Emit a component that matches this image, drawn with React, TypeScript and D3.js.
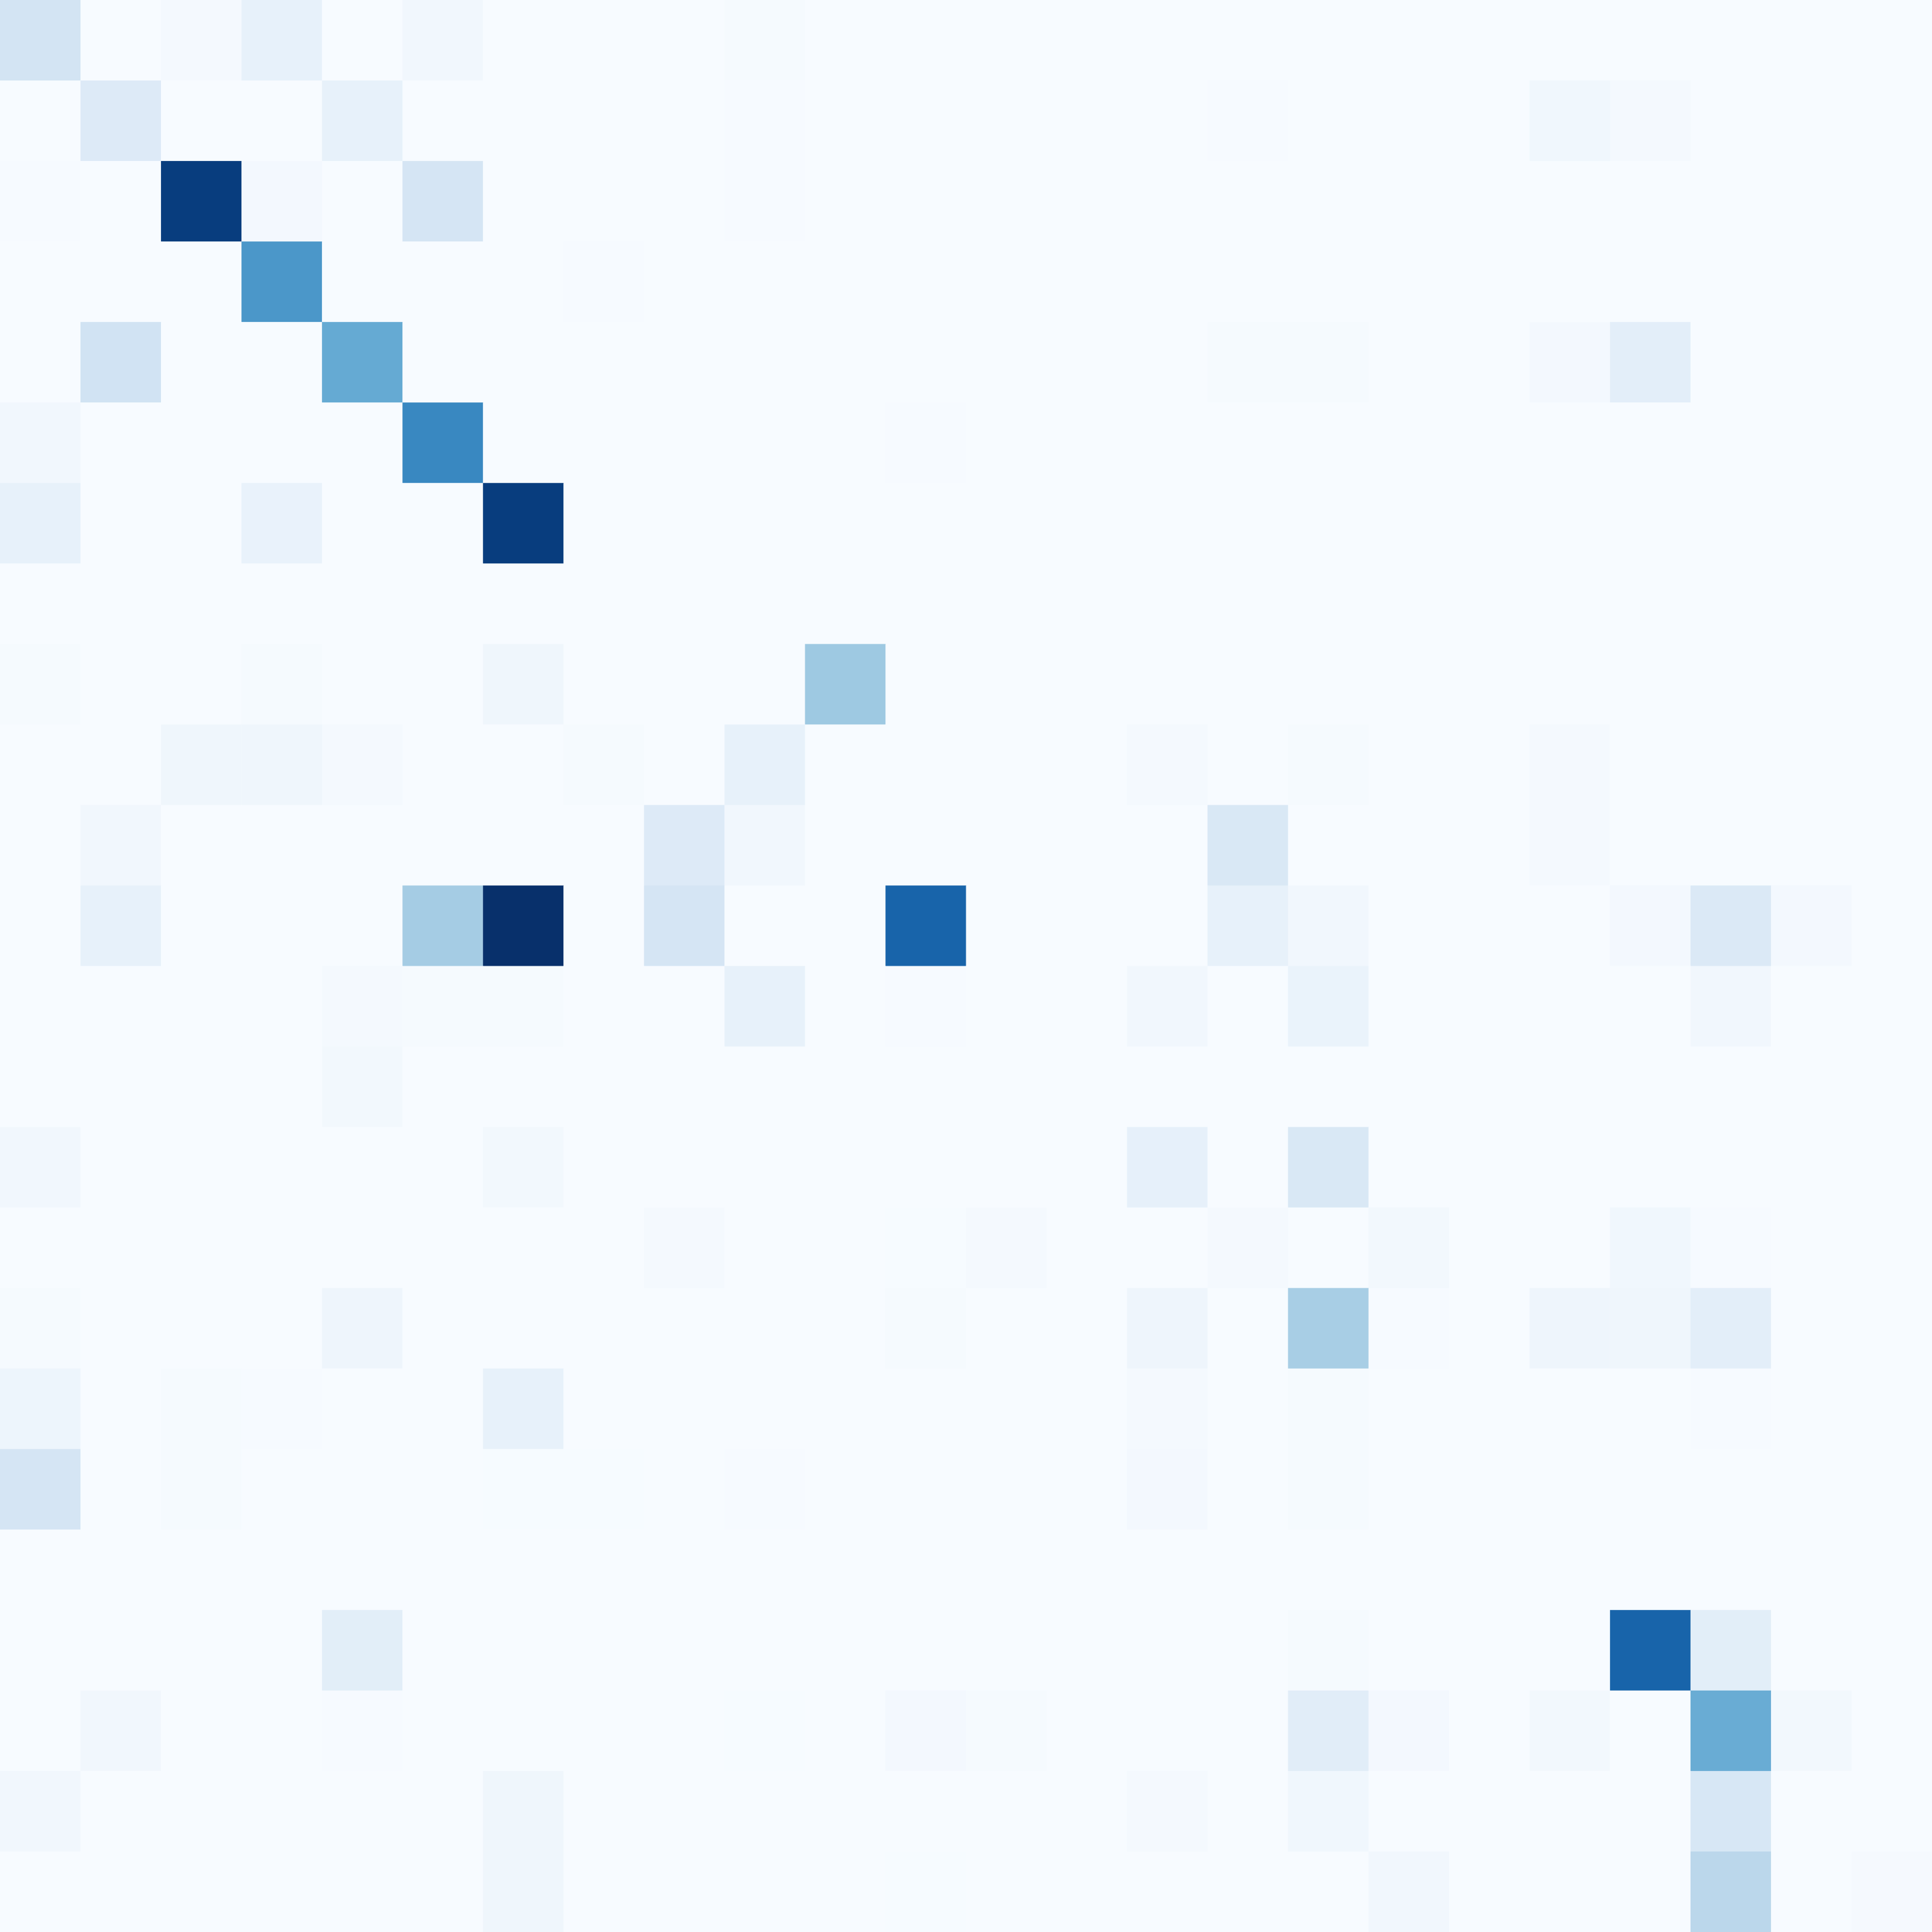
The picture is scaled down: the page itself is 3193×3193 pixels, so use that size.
import React from 'react'
import { scaleBand, scaleSequential, interpolateBlues } from 'd3'

const W = 3193
const H = 3193

// row / column keys (no visible labels in the chart)
const rowKeys = ['0','1','2','3','4','5','6','7','8','9','10','11','12','13','14','15','16','17','18','19','20','21','22','23']
const colKeys = ['0','1','2','3','4','5','6','7','8','9','10','11','12','13','14','15','16','17','18','19','20','21','22','23']

// cell values, one array per row (percent of max)
const row0 = [18, 0, 1.5, 8, 0, 3, 0, 0, 0, 1, 0, 0, 0, 0, 0, 0, 0, 0, 0, 0, 0, 0, 0, 0]
const row1 = [0, 13, 0, 0, 8, 0, 0, 0, 0, 0.5, 0, 0, 0, 0, 0, 0.5, 0, 0, 0, 3.5, 1.5, 0, 0, 0]
const row2 = [0.5, 0, 95, 2, 0, 17, 0, 0, 0, 0.5, 0, 0, 0, 0, 0, 0, 0, 0, 0, 0, 0, 0, 0, 0]
const row3 = [0, 0, 0, 60, 0, 0, 0, 0.5, 0, 0, 0, 0, 0, 0, 0, 0, 0, 0, 0, 0, 0, 0, 0, 0]
const row4 = [0, 19, 0, 0, 52, 0, 0, 0, 0, 0, 0, 0, 0, 0, 0, 1, 1, 0, 0, 2, 10, 0, 0, 0]
const row5 = [3, 0, 0, 0, 0, 66, 0, 0, 0, 0, 0, 0.5, 0, 0, 0, 0, 0, 0, 0, 0, 0, 0, 0, 0]
const row6 = [8, 0, 0, 7, 0, 0, 95, 0, 0, 0, 0, 0, 0, 0, 0, 0, 0, 0, 0, 0, 0, 0, 0, 0]
const row7 = [0, 0, 0, 0, 0, 0, 0, 0, 0, 0, 0, 0, 0, 0, 0, 0, 0, 0, 0, 0, 0, 0, 0, 0]
const row8 = [1, 0, 0, 1, 0, 0, 4, 0, 0, 0, 37, 0, 0, 0, 0, 0, 0, 0, 0, 0, 0, 0, 0, 0]
const row9 = [0, 0, 4, 4, 1.5, 0, 0, 1, 0, 8, 0, 0, 0, 0, 1.5, 0, 1, 0, 0, 1.5, 0, 0, 0, 0]
const row10 = [0, 3, 0, 0, 0, 0, 0, 0, 13, 3, 0, 0, 0, 0, 0, 15, 0, 0, 0, 1.5, 0, 0, 0, 0]
const row11 = [0, 8, 0, 0, 0, 35, 100, 0, 17, 0, 0, 80, 0, 0, 0, 8, 3, 0, 0, 0, 2, 14, 2, 0]
const row12 = [0, 0, 0, 0, 1.5, 1, 1, 0, 0, 8, 0, 0.5, 0, 0, 3, 0, 6.5, 0, 0, 0, 0, 3, 0, 0]
const row13 = [0, 0, 0, 0, 2.5, 0, 0, 0, 0, 0, 0, 0, 0, 0, 0, 0, 0, 0, 0, 0, 0, 0, 0, 0]
const row14 = [3, 0, 0, 0, 0, 0, 2.5, 0, 0, 0, 0, 0, 0, 0, 8.5, 0, 15, 0, 0, 0, 0, 0, 0, 0]
const row15 = [0, 0, 0, 0, 0, 0, 0, 0, 1.5, 0, 0, 0.3, 1.5, 0, 0, 1.5, 0, 2.5, 0, 0, 3.5, 0.5, 0, 0]
const row16 = [1, 0, 0, 0, 4.5, 0, 0, 0, 0, 0, 0, 1, 0, 0, 4.5, 0, 34, 0.5, 0, 4.5, 4, 10, 0, 0]
const row17 = [5, 0, 1, 0.5, 0, 0, 8, 0, 0, 0, 0, 0, 0, 0, 1.5, 0, 0.8, 0, 0, 0, 0, 0.5, 0, 0]
const row18 = [17, 0, 0.8, 0, 0, 0, 0.3, 0.3, 0, 0.5, 0, 0, 0, 0, 2, 0, 1, 0, 0, 0, 0, 0, 0, 0]
const row19 = [0, 0, 0, 0, 0, 0, 0, 0, 0, 0, 0, 0, 0, 0, 0, 0, 0, 0, 0, 0, 0, 0, 0, 0]
const row20 = [0, 0, 0, 0, 10.5, 0, 0, 0, 0, 0, 0, 0, 0, 0, 0, 0, 0.8, 0, 0, 0, 80, 10.5, 0, 0]
const row21 = [0, 3, 0, 0, 0.5, 0, 0, 0, 0, 0.3, 0, 2, 0.8, 0, 0, 0, 11, 2, 0, 2.5, 0, 51, 2.5, 0]
const row22 = [3, 0, 0, 0, 0, 0, 4, 0, 0, 0, 0, 0, 0, 0, 1.5, 0, 3.5, 0, 0, 0, 0, 16, 0, 0]
const row23 = [0, 0, 0, 0, 0, 0, 4, 0, 0, 0, 0, 0.3, 0, 0, 0, 0, 0, 3, 0, 0, 0, 28, 0, 1.2]

const matrix = [row0, row1, row2, row3, row4, row5, row6, row7, row8, row9, row10, row11,
  row12, row13, row14, row15, row16, row17, row18, row19, row20, row21, row22, row23]

const App = () => {
  const x = scaleBand<string>().domain(colKeys).range([0, W]).padding(0)
  const y = scaleBand<string>().domain(rowKeys).range([0, H]).padding(0)
  const color = scaleSequential(interpolateBlues).domain([0, 100])

  const cells = matrix.flatMap((row, i) =>
    row.map((v, j) => (
      <rect
        key={`${i}-${j}`}
        x={x(colKeys[j])}
        y={y(rowKeys[i])}
        width={x.bandwidth() + 0.5}
        height={y.bandwidth() + 0.5}
        fill={color(v)}
      />
    ))
  )

  return (
    <svg width={W} height={H} style={{ position: 'absolute', left: 0, top: 0, display: 'block' }}>
      <rect width={W} height={H} fill={color(0)} />
      {cells}
    </svg>
  )
}

export default App
